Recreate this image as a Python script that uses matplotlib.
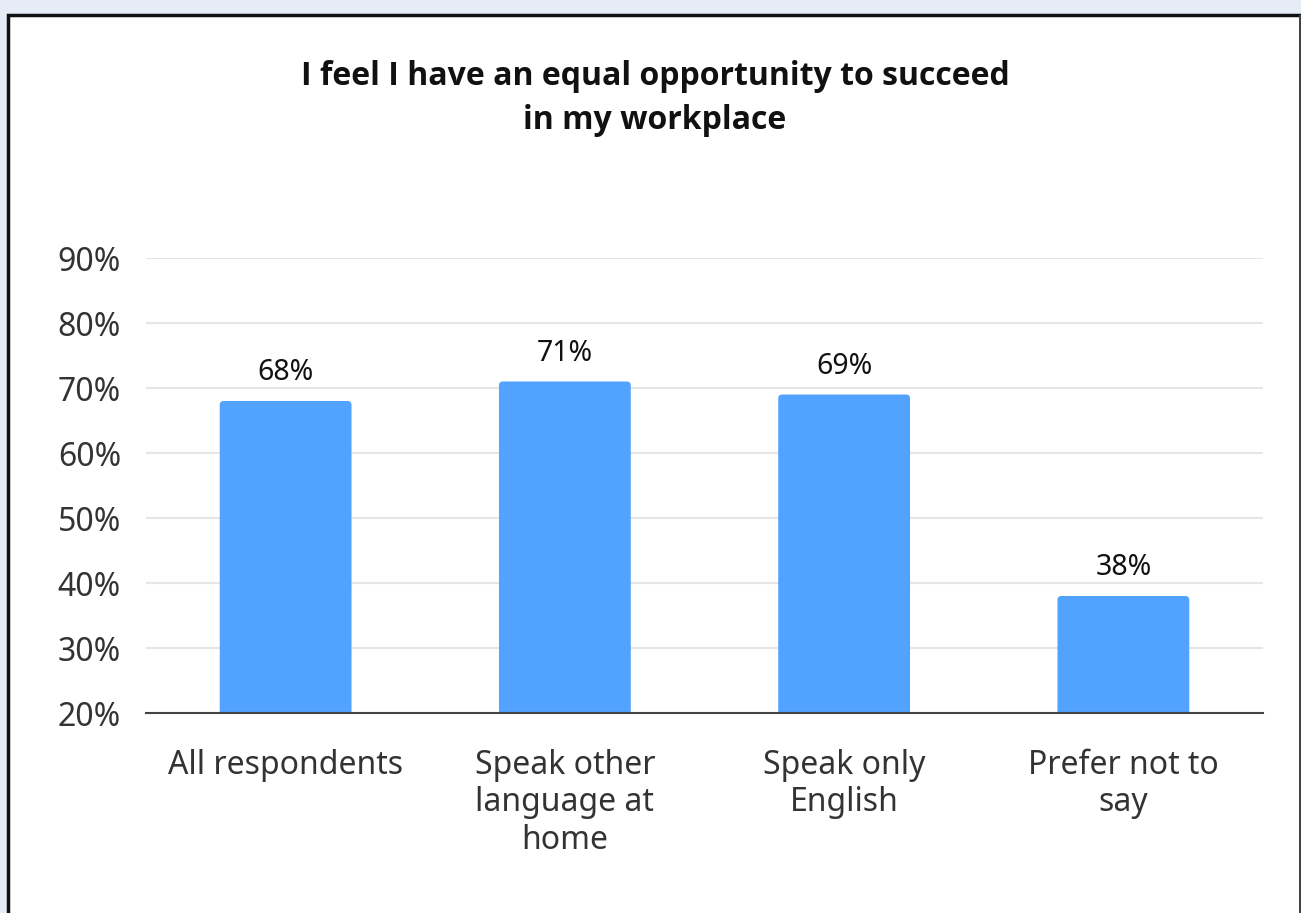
import matplotlib.pyplot as plt
from matplotlib.patches import Rectangle, FancyBboxPatch

plt.rcParams['font.family'] = ['Noto Sans', 'DejaVu Sans']

categories = ['All respondents', 'Speak other\nlanguage at\nhome', 'Speak only\nEnglish', 'Prefer not to\nsay']
values = [68, 71, 69, 38]
labels = ['68%', '71%', '69%', '38%']
yticks = [20, 30, 40, 50, 60, 70, 80, 90]

W, H = 1301, 913
fig = plt.figure(figsize=(W / 100, H / 100), dpi=100)
fig.patch.set_facecolor('#e5ecf6')

# white card with a dark frame
card = Rectangle((8 / W, -0.05), 1.2, 1 - 15 / H + 0.05, transform=fig.transFigure,
                 facecolor='white', edgecolor='#111111', linewidth=2.5, zorder=-5)
fig.patches.append(card)
fig.patches.append(Rectangle((1299 / W, 0), 2 / W, 1 - 15 / H, transform=fig.transFigure,
                             facecolor='#444444', edgecolor='none', zorder=-4))

ax = fig.add_axes([146 / W, 1 - 713 / H, (1263 - 146) / W, (713 - 258) / H])
ax.set_facecolor('none')
ax.set_zorder(2)
ax.set_xlim(-0.5, 3.5)
ax.set_ylim(20, 90)

x = range(len(categories))
bars = ax.bar(x, values, width=0.472, color='#52a2ff', zorder=2)
# swap in bars with slightly rounded corners
px_x = 1117 / 4.0
px_y = 455 / 70.0
r = 4 / px_x
for b in bars:
    b.set_visible(False)
    ax.add_patch(FancyBboxPatch((b.get_x(), 0), b.get_width(), b.get_height(),
                                boxstyle=f'round,pad=0,rounding_size={r}',
                                mutation_aspect=px_x / px_y,
                                facecolor='#52a2ff', edgecolor='none', zorder=2))
for xi, v, t in zip(x, values, labels):
    ax.text(xi, v + 3.2, t, ha='center', va='baseline', fontsize=20.5, color='#111111')

ax.set_yticks(yticks)
ax.set_yticklabels([f'{t}%' for t in yticks], fontsize=23, color='#333333')
ax.set_xticks(list(x))
ax.set_xticklabels(categories, fontsize=23, color='#333333', linespacing=1.17, va='top')
ax.tick_params(axis='both', length=0)
ax.tick_params(axis='x', pad=26)
ax.tick_params(axis='y', pad=18)

ax.grid(axis='y', color='#e6e6e6', linewidth=1.5, zorder=0)
for s in ['top', 'right', 'left']:
    ax.spines[s].set_visible(False)
ax.spines['bottom'].set_color('#444444')
ax.spines['bottom'].set_linewidth(1.5)
ax.spines['bottom'].set_zorder(3)

fig.text(655 / W, 1 - 98.5 / H, 'I feel I have an equal opportunity to succeed\nin my workplace',
         ha='center', va='center', fontsize=23, fontweight='bold', color='#111111',
         linespacing=1.42, family=['Open Sans', 'DejaVu Sans'])

fig.savefig('out.png', dpi=100, facecolor=fig.get_facecolor())
